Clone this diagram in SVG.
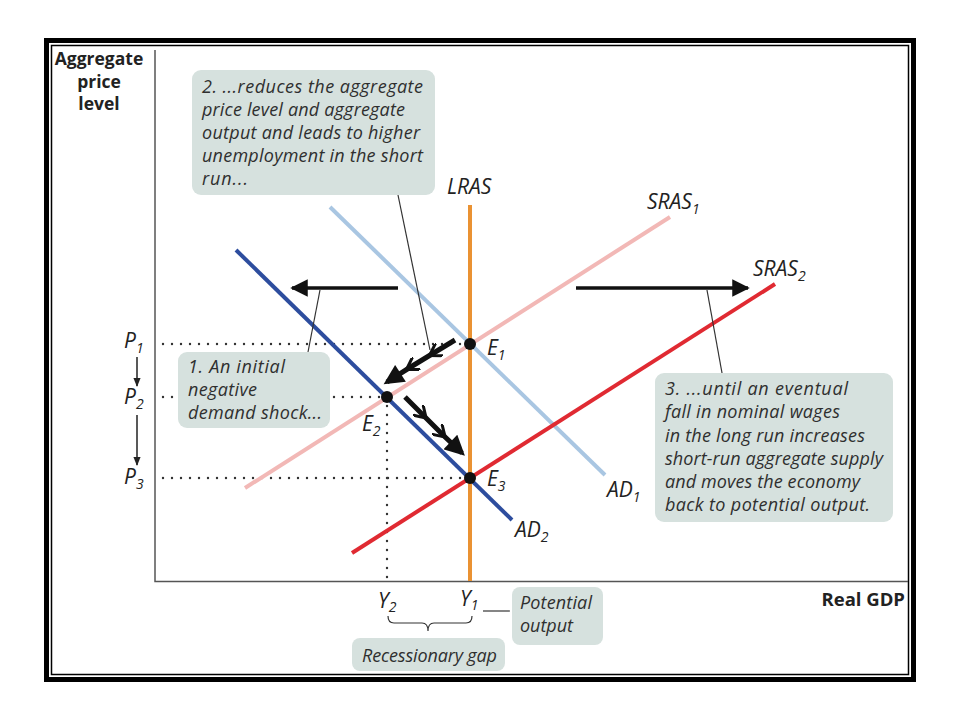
<svg xmlns="http://www.w3.org/2000/svg" width="960" height="720" viewBox="0 0 960 720">
<defs>
<style>
.frame{fill:none;stroke:#000}
.axis{stroke:#555;stroke-width:1.5;fill:none}
.box{fill:#d6e1de}
.note{font-family:"Open Sans","Noto Sans",sans-serif;font-style:italic;font-size:18px;fill:#2f2f2f}
.lbl{font-family:"Open Sans","Noto Sans",sans-serif;font-style:italic;font-size:21px;fill:#222}
.sub{font-size:14px}
.axlbl{font-family:"Open Sans","Noto Sans",sans-serif;font-weight:bold;font-size:17.5px;fill:#222}
.dot{stroke:#333;stroke-width:2.4;stroke-linecap:round;stroke-dasharray:0 9;fill:none}
.leader{stroke:#333;stroke-width:1.2;fill:none}
.big{stroke:#111;stroke-width:3.5;fill:none}
.move{stroke:#111;stroke-width:5;fill:none}
</style>
<marker id="ah" viewBox="0 0 10 10" refX="9" refY="5" markerWidth="6" markerHeight="5" markerUnits="strokeWidth" orient="auto">
<path d="M0,0 L10,5 L0,10 z" fill="#111"/>
</marker>
<marker id="ahm" viewBox="0 0 10 10" refX="8" refY="5" markerWidth="4.2" markerHeight="4" markerUnits="strokeWidth" orient="auto">
<path d="M0,0 L10,5 L0,10 z" fill="#111"/>
</marker>
<marker id="chev" viewBox="0 0 10 10" refX="6" refY="5" markerWidth="3" markerHeight="3" markerUnits="strokeWidth" orient="auto">
<path d="M0,0 L8,5 L0,10" fill="none" stroke="#111" stroke-width="2"/>
</marker>
<marker id="sah" viewBox="0 0 10 10" refX="9" refY="5" markerWidth="6" markerHeight="6" markerUnits="strokeWidth" orient="auto">
<path d="M0,1 L10,5 L0,9 z" fill="#222"/>
</marker>
</defs>
<rect width="960" height="720" fill="#fff"/>
<rect class="frame" x="46.5" y="40.5" width="867" height="639" stroke-width="5"/>
<rect class="frame" x="51.5" y="45.5" width="857" height="629" stroke-width="1.5"/>

<g id="axes">
<path class="axis" d="M155,50 V581.5 H908"/>
<text class="axlbl" text-anchor="middle"><tspan x="99" y="65">Aggregate</tspan><tspan x="99" y="88">price</tspan><tspan x="99" y="110">level</tspan></text>
<text class="axlbl" x="905" y="606" text-anchor="end" style="font-size:18.5px">Real GDP</text>
</g>

<g id="guides">
<path class="dot" d="M163,344 H470 M163,397 H175 M334,397 H387 M163,478 H470 M387,397 V580"/>
</g>

<g id="curves">
<g id="AD1"><line x1="330" y1="207" x2="605" y2="475" stroke="#a9c6e2" stroke-width="4"/><text class="lbl" x="607" y="497">AD<tspan class="sub" dy="5">1</tspan></text></g>
<g id="SRAS1"><line x1="245" y1="488" x2="670" y2="217" stroke="#f2b8b6" stroke-width="4"/><text class="lbl" x="647" y="209">SRAS<tspan class="sub" dy="5">1</tspan></text></g>
<g id="LRAS"><line x1="470" y1="205" x2="470" y2="581" stroke="#ea9233" stroke-width="4"/><text class="lbl" x="447" y="194">LRAS</text></g>
<g id="AD2"><line x1="236" y1="250" x2="512" y2="520" stroke="#2d4d9e" stroke-width="4"/><text class="lbl" x="515" y="537">AD<tspan class="sub" dy="5">2</tspan></text></g>
<g id="SRAS2"><line x1="352" y1="553" x2="775" y2="284" stroke="#e02a32" stroke-width="4"/><text class="lbl" x="753" y="276">SRAS<tspan class="sub" dy="5">2</tspan></text></g>
</g>

<g id="connectors">
<line class="big" x1="398" y1="288" x2="292" y2="288" marker-end="url(#ah)"/>
<line class="big" x1="576" y1="288" x2="748" y2="288" marker-end="url(#ah)"/>
<path class="move" d="M455,340 L432,354 L409,368 L387,382" marker-mid="url(#chev)" marker-end="url(#ahm)"/>
<path class="move" d="M405,397 L424,416 L443,435 L462,453" marker-mid="url(#chev)" marker-end="url(#ahm)"/>
<line class="leader" x1="398" y1="195" x2="430" y2="350"/>
<line class="leader" x1="320" y1="290" x2="308" y2="352"/>
<line class="leader" x1="707" y1="290" x2="722" y2="373"/>
<line class="leader" x1="483" y1="611" x2="510" y2="611"/>
<line x1="137" y1="357" x2="137" y2="386" stroke="#222" stroke-width="1.5" marker-end="url(#sah)"/>
<line x1="137" y1="415" x2="137" y2="465" stroke="#222" stroke-width="1.5" marker-end="url(#sah)"/>
<path class="leader" d="M388,616 Q388,623 394,623 H422 Q428,623 428,631 Q428,623 434,623 H466 Q472,623 472,616" stroke-width="2"/>
</g>

<g id="points">
<circle cx="470" cy="344" r="6" fill="#111"/>
<circle cx="387" cy="397" r="6" fill="#111"/>
<circle cx="470" cy="478" r="6" fill="#111"/>
<text class="lbl" x="487" y="355">E<tspan class="sub" dy="5">1</tspan></text>
<text class="lbl" x="362" y="431">E<tspan class="sub" dy="5">2</tspan></text>
<text class="lbl" x="487" y="486">E<tspan class="sub" dy="5">3</tspan></text>
<text class="lbl" x="124" y="348">P<tspan class="sub" dy="5">1</tspan></text>
<text class="lbl" x="124" y="404">P<tspan class="sub" dy="5">2</tspan></text>
<text class="lbl" x="124" y="484">P<tspan class="sub" dy="5">3</tspan></text>
<text class="lbl" x="378" y="608">Y<tspan class="sub" dy="4">2</tspan></text>
<text class="lbl" x="460" y="606">Y<tspan class="sub" dy="4">1</tspan></text>
</g>

<g id="note2">
<rect class="box" x="192" y="70" width="243" height="125" rx="9"/>
<text class="note" x="202" y="93" textLength="221" lengthAdjust="spacing">2. ...reduces the aggregate</text>
<text class="note" x="202" y="116" textLength="203" lengthAdjust="spacing">price level and aggregate</text>
<text class="note" x="202" y="139" textLength="218" lengthAdjust="spacing">output and leads to higher</text>
<text class="note" x="202" y="162" textLength="221" lengthAdjust="spacing">unemployment in the short</text>
<text class="note" x="202" y="185" textLength="46" lengthAdjust="spacing">run...</text>
</g>

<g id="note1">
<rect class="box" x="178" y="352" width="152" height="76" rx="9"/>
<text class="note" x="188" y="373" textLength="97" lengthAdjust="spacing">1. An initial</text>
<text class="note" x="188" y="396" textLength="69" lengthAdjust="spacing">negative</text>
<text class="note" x="188" y="419" textLength="134" lengthAdjust="spacing">demand shock...</text>
</g>

<g id="note3">
<rect class="box" x="655" y="373" width="238" height="149" rx="9"/>
<text class="note" x="665" y="395" textLength="183" lengthAdjust="spacing">3. ...until an eventual</text>
<text class="note" x="665" y="418" textLength="175" lengthAdjust="spacing">fall in nominal wages</text>
<text class="note" x="665" y="442" textLength="200" lengthAdjust="spacing">in the long run increases</text>
<text class="note" x="665" y="465" textLength="218" lengthAdjust="spacing">short-run aggregate supply</text>
<text class="note" x="665" y="488" textLength="195" lengthAdjust="spacing">and moves the economy</text>
<text class="note" x="665" y="511" textLength="205" lengthAdjust="spacing">back to potential output.</text>
</g>

<g id="potential">
<rect class="box" x="512" y="587" width="91" height="58" rx="8"/>
<text class="note" x="520" y="609" textLength="72" lengthAdjust="spacing">Potential</text>
<text class="note" x="520" y="632" textLength="53" lengthAdjust="spacing">output</text>
</g>

<g id="gap">
<rect class="box" x="352" y="638" width="153" height="33" rx="8"/>
<text class="note" x="362" y="662" textLength="135" lengthAdjust="spacing">Recessionary gap</text>
</g>
</svg>
